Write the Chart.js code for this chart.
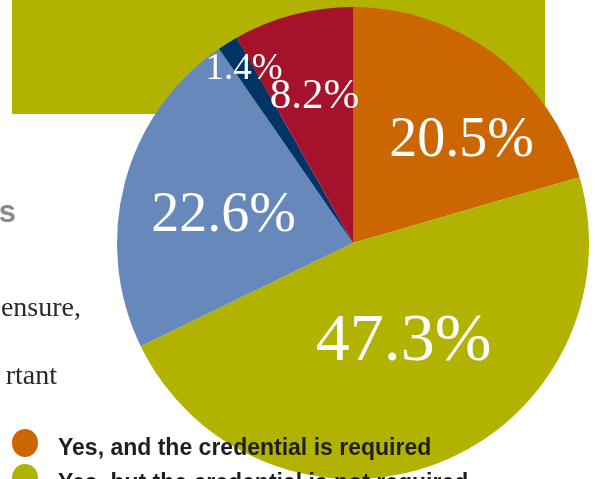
<!DOCTYPE html>
<html>
<head>
<meta charset="utf-8">
<script src="https://cdn.jsdelivr.net/npm/chart.js@4/dist/chart.umd.min.js"></script>
<style>
  html, body { margin: 0; padding: 0; background: #fff; overflow: hidden; }
  canvas { display: block; }
</style>
</head>
<body>
<canvas id="credChart" width="595" height="479"></canvas>
<script>
  // Survey answers, clockwise from 12 o'clock
  const answers = [
    'Yes, and the credential is required',
    'Yes, but the credential is not required',
    'No',
    'Don\u2019t know',
    'Other'
  ];
  const shares = [20.5, 47.3, 22.6, 1.4, 8.2];
  const sliceColors = ['#cc6600', '#b2b200', '#6688bb', '#003366', '#a6122c'];

  // where each percentage sits inside its slice (radius fraction, angle nudge in deg, font px)
  const labelStyle = [
    { r: 0.63, da: 10, size: 56 },
    { r: 0.47, da: -6, size: 68 },
    { r: 0.56, da: -3, size: 56 },
    { r: 0.87, da: 0, size: 37 },
    { r: 0.64, da: 0, size: 43 }
  ];

  const pageBits = {
    id: 'pageBits',
    beforeDraw(chart) {
      const c = chart.ctx;
      c.save();
      c.fillStyle = '#b2b200';
      c.fillRect(12, 0, 533, 114);

      c.fillStyle = '#8a8a8a';
      c.font = 'bold 31px "Liberation Sans", Arial, sans-serif';
      c.textBaseline = 'alphabetic';
      c.textAlign = 'right';
      c.fillText('s', 16, 222);

      c.fillStyle = '#2a2a2a';
      c.font = '28px "Liberation Serif", serif';
      c.fillText('ensure,', 81, 316);
      c.fillText('rtant', 57, 384);
      c.restore();
    },
    afterDatasetsDraw(chart) {
      const c = chart.ctx;
      const arcs = chart.getDatasetMeta(0).data;
      c.save();
      c.fillStyle = '#ffffff';
      c.textAlign = 'center';
      c.textBaseline = 'middle';
      arcs.forEach((arc, i) => {
        const st = labelStyle[i];
        const mid = (arc.startAngle + arc.endAngle) / 2 + st.da * Math.PI / 180;
        const d = arc.outerRadius * st.r;
        const x = arc.x + Math.cos(mid) * d;
        const y = arc.y + Math.sin(mid) * d;
        c.font = st.size + 'px "Liberation Serif", serif';
        c.fillText(shares[i].toFixed(1) + '%', x, y);
      });

      // legend, overlapping the bottom of the pie
      c.textAlign = 'left';
      c.textBaseline = 'alphabetic';
      c.font = 'bold 23px "Liberation Sans", Arial, sans-serif';
      [0, 1].forEach(i => {
        const cy = 443 + i * 35;
        c.fillStyle = sliceColors[i];
        c.beginPath();
        c.ellipse(25, cy, 13, 14, 0, 0, Math.PI * 2);
        c.fill();
        c.fillStyle = '#1e1e1e';
        c.fillText(answers[i], 58, cy + 12);
      });
      c.restore();
    }
  };

  new Chart(document.getElementById('credChart').getContext('2d'), {
    type: 'pie',
    data: {
      labels: answers,
      datasets: [{
        data: shares,
        backgroundColor: sliceColors,
        borderWidth: 0
      }]
    },
    options: {
      responsive: false,
      animation: false,
      layout: { padding: { left: 117, right: 6, top: 7, bottom: 0 } },
      plugins: {
        legend: { display: false },
        tooltip: { enabled: false }
      }
    },
    plugins: [pageBits]
  });
</script>
</body>
</html>
